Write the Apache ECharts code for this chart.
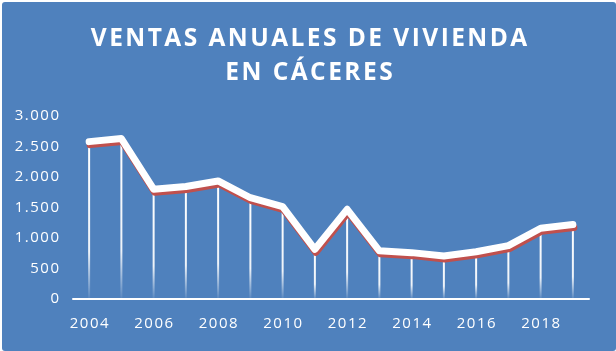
<!DOCTYPE html>
<html>
<head>
<meta charset="utf-8">
<script src="https://cdn.jsdelivr.net/npm/echarts@6/dist/echarts.min.js"></script>
<style>
  html, body { margin: 0; padding: 0; background: #ffffff; }
  #chart { position: absolute; left: 2px; top: 2px; width: 614px; height: 349px; background: #4f81bd; border-radius: 3px; }
</style>
</head>
<body>
<div id="chart"></div>
<script>
// años y ventas anuales
var years = ['2004', '2005', '2006', '2007', '2008', '2009', '2010', '2011',
  '2012', '2013', '2014', '2015', '2016', '2017', '2018', '2019']
var ventas = [2580, 2630, 1800, 1845, 1935, 1660, 1515, 815,
  1470, 790, 760, 705, 775, 875, 1160, 1220]
var yTicks = [0, 500, 1000, 1500, 2000, 2500, 3000]

var chart = echarts.init(document.getElementById('chart'))

// espaciado entre letras con espacio fino
var spaced = function (s) {
  return s.split('\n').map(function (l) { return l.split('').join('\u200A') }).join('\n')
}
var fmt = function (v) {
  var s = v >= 1000 ? Math.floor(v / 1000) + '.' + String(v % 1000).padStart(3, '0') : String(v)
  return spaced(s)
}

chart.setOption({
  backgroundColor: 'transparent',
  animation: false,
  title: {
    text: spaced('VENTAS ANUALES DE VIVIENDA\nEN CÁCERES'),
    left: 'center',
    top: 15,
    textStyle: {
      color: '#ffffff',
      fontFamily: 'Open Sans',
      fontWeight: 'bold',
      fontSize: 24.5,
      lineHeight: 34,
    },
  },
  grid: {
    left: 71,
    right: 27,
    top: 114,
    bottom: 52,
  },
  xAxis: {
    type: 'category',
    data: years,
    boundaryGap: true,
    axisLine: { lineStyle: { color: '#ffffff', width: 2 } },
    axisTick: { show: false },
    axisLabel: {
      interval: 1,
      color: '#ffffff',
      fontFamily: 'Open Sans',
      fontSize: 15,
      margin: 17,
      formatter: spaced,
    },
  },
  yAxis: {
    type: 'value',
    min: 0,
    max: yTicks[yTicks.length - 1],
    interval: 500,
    axisLine: { show: false },
    axisTick: { show: false },
    splitLine: { show: false },
    axisLabel: {
      color: '#ffffff',
      fontFamily: 'Open Sans',
      fontSize: 15,
      margin: 14,
      formatter: fmt,
    },
  },
  series: [
    { // líneas de caída
      type: 'bar',
      data: ventas,
      barWidth: 2,
      z: 1,
      itemStyle: {
        color: new echarts.graphic.LinearGradient(0, 0, 0, 1, [
          { offset: 0, color: 'rgba(255,255,255,1)' },
          { offset: 0.7, color: 'rgba(255,255,255,0.9)' },
          { offset: 1, color: 'rgba(255,255,255,0.05)' },
        ]),
      },
    },
    {
      type: 'line',
      data: ventas,
      symbol: 'none',
      z: 3,
      lineStyle: {
        color: '#ffffff',
        width: 7,
        cap: 'round',
        join: 'round',
        shadowColor: '#c0504d',
        shadowOffsetX: 1,
        shadowOffsetY: 3,
        shadowBlur: 0,
      },
    },
  ],
})
</script>
</body>
</html>
